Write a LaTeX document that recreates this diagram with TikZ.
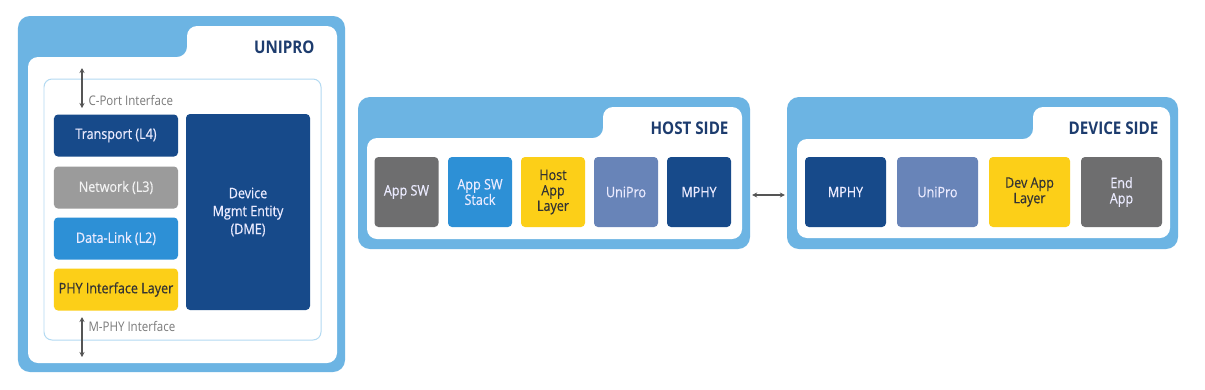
\documentclass[tikz,border=0pt]{standalone}
\usepackage{fontspec}
\setmainfont[FakeStretch=0.87]{Open Sans}
\newfontfamily\blkfont[FakeStretch=0.87,FakeBold=0.4]{Open Sans}
\usetikzlibrary{arrows.meta,calc}
\definecolor{frameblue}{HTML}{6CB4E3}
\definecolor{lineblue}{HTML}{B3DAF2}
\definecolor{navy}{HTML}{174A8A}
\definecolor{netgray}{HTML}{9B9B9B}
\definecolor{midblue}{HTML}{2D90D6}
\definecolor{sunyellow}{HTML}{FCCF18}
\definecolor{slateblue}{HTML}{6884B8}
\definecolor{darkgray}{HTML}{6E6E6F}
\definecolor{headtext}{HTML}{1D3C6E}
\definecolor{ifgray}{HTML}{555555}
\definecolor{iftext}{HTML}{7A7A7A}
\tikzset{
  frame/.style={fill=frameblue, rounded corners=12pt, inner sep=0pt},
  blk/.style={rounded corners=4pt, inner sep=0pt, align=center, text=white!92!blue,
    font=\blkfont\fontsize{14.5}{15.5}\selectfont},
  head/.style={anchor=east, text=headtext, font=\fontsize{17.5}{20}\selectfont\bfseries},
  iflabel/.style={anchor=west, text=iftext, font=\fontsize{13.3}{15}\selectfont},
  arr/.style={ifgray, line width=1.3pt, {Stealth[length=5pt,width=5pt]}-{Stealth[length=5pt,width=5pt]}},
}
\begin{document}
\begin{tikzpicture}[x=1bp,y=-1bp]
\useasboundingbox (0,0) rectangle (1205,389);
\fill[white] (0,0) rectangle (1205,389);
% ---------- UNIPRO ----------
\node[frame, minimum width=327bp, minimum height=356bp] (uniframe) at (181.5,194) {};
\fill[white, rounded corners=10bp] (28,363) -- (28,57) -- (187,57) -- (187,26) -- (337,26) -- (337,363) -- cycle;
\node[head] (unihead) at (318,47) {UNIPRO};
\draw[lineblue, line width=1pt, rounded corners=8bp] (44,79) rectangle (321,340);
\node[blk, fill=navy, minimum width=124bp, minimum height=42bp] (transport) at (116,135.5) {Transport (L4)};
\node[blk, fill=netgray, text=white!90!gray, minimum width=124bp, minimum height=42bp] (network) at (116,187.5) {Network (L3)};
\node[blk, fill=midblue, minimum width=124bp, minimum height=42bp] (datalink) at (116,238.5) {Data-Link (L2)};
\node[blk, fill=sunyellow, text=black!80, minimum width=124bp, minimum height=42bp] (phy) at (116,289.5) {PHY Interface Layer};
\node[blk, fill=navy, minimum width=124bp, minimum height=196bp, font=\blkfont\fontsize{14.5}{18}\selectfont] (dme) at (248,212) {Device\\Mgmt Entity\\(DME)};
\coordinate (cporttop) at (82,68);
\coordinate (cportbot) at (82,108);
\draw[arr] (cporttop) -- (cportbot);
\node[iflabel] (cport) at (85,100) {C-Port Interface};
\coordinate (mphytop) at (82,317);
\coordinate (mphybot) at (82,357);
\draw[arr] (mphytop) -- (mphybot);
\node[iflabel] (mphyif) at (85,326) {M-PHY Interface};
% ---------- HOST SIDE ----------
\node[frame, minimum width=392bp, minimum height=152bp] (hostframe) at (554,173) {};
\fill[white, rounded corners=10bp] (367,239) -- (367,138) -- (603,138) -- (603,107) -- (742,107) -- (742,239) -- cycle;
\node[head] (hosthead) at (732,128) {HOST SIDE};
\node[blk, fill=darkgray, minimum width=64bp, minimum height=70bp] (appsw) at (406.5,192) {App SW};
\node[blk, fill=midblue, minimum width=64bp, minimum height=70bp] (appstack) at (480,192) {App SW\\Stack};
\node[blk, fill=sunyellow, text=black!80, minimum width=64bp, minimum height=70bp] (hostapp) at (553,192) {Host\\App\\Layer};
\node[blk, fill=slateblue, minimum width=64bp, minimum height=70bp] (hostunipro) at (626,192) {UniPro};
\node[blk, fill=navy, minimum width=64bp, minimum height=70bp] (hostmphy) at (699,192) {MPHY};
% ---------- DEVICE SIDE ----------
\node[frame, minimum width=391bp, minimum height=152bp] (devframe) at (982.5,173) {};
\fill[white, rounded corners=10bp] (797,238) -- (797,139) -- (1033,139) -- (1033,107) -- (1170,107) -- (1170,238) -- cycle;
\node[head] (devhead) at (1162,128) {DEVICE SIDE};
\node[blk, fill=navy, minimum width=81bp, minimum height=70bp] (devmphy) at (845.5,192) {MPHY};
\node[blk, fill=slateblue, minimum width=81bp, minimum height=70bp] (devunipro) at (937.5,192) {UniPro};
\node[blk, fill=sunyellow, text=black!80, minimum width=81bp, minimum height=70bp] (devapp) at (1029.5,192) {Dev App\\Layer};
\node[blk, fill=darkgray, minimum width=81bp, minimum height=70bp] (endapp) at (1121.5,192) {End\\App};
% ---------- link ----------
\draw[arr] ([xshift=2bp]hostframe.east |- 0,195) -- ([xshift=-2bp]devframe.west |- 0,195);
\end{tikzpicture}
\end{document}
